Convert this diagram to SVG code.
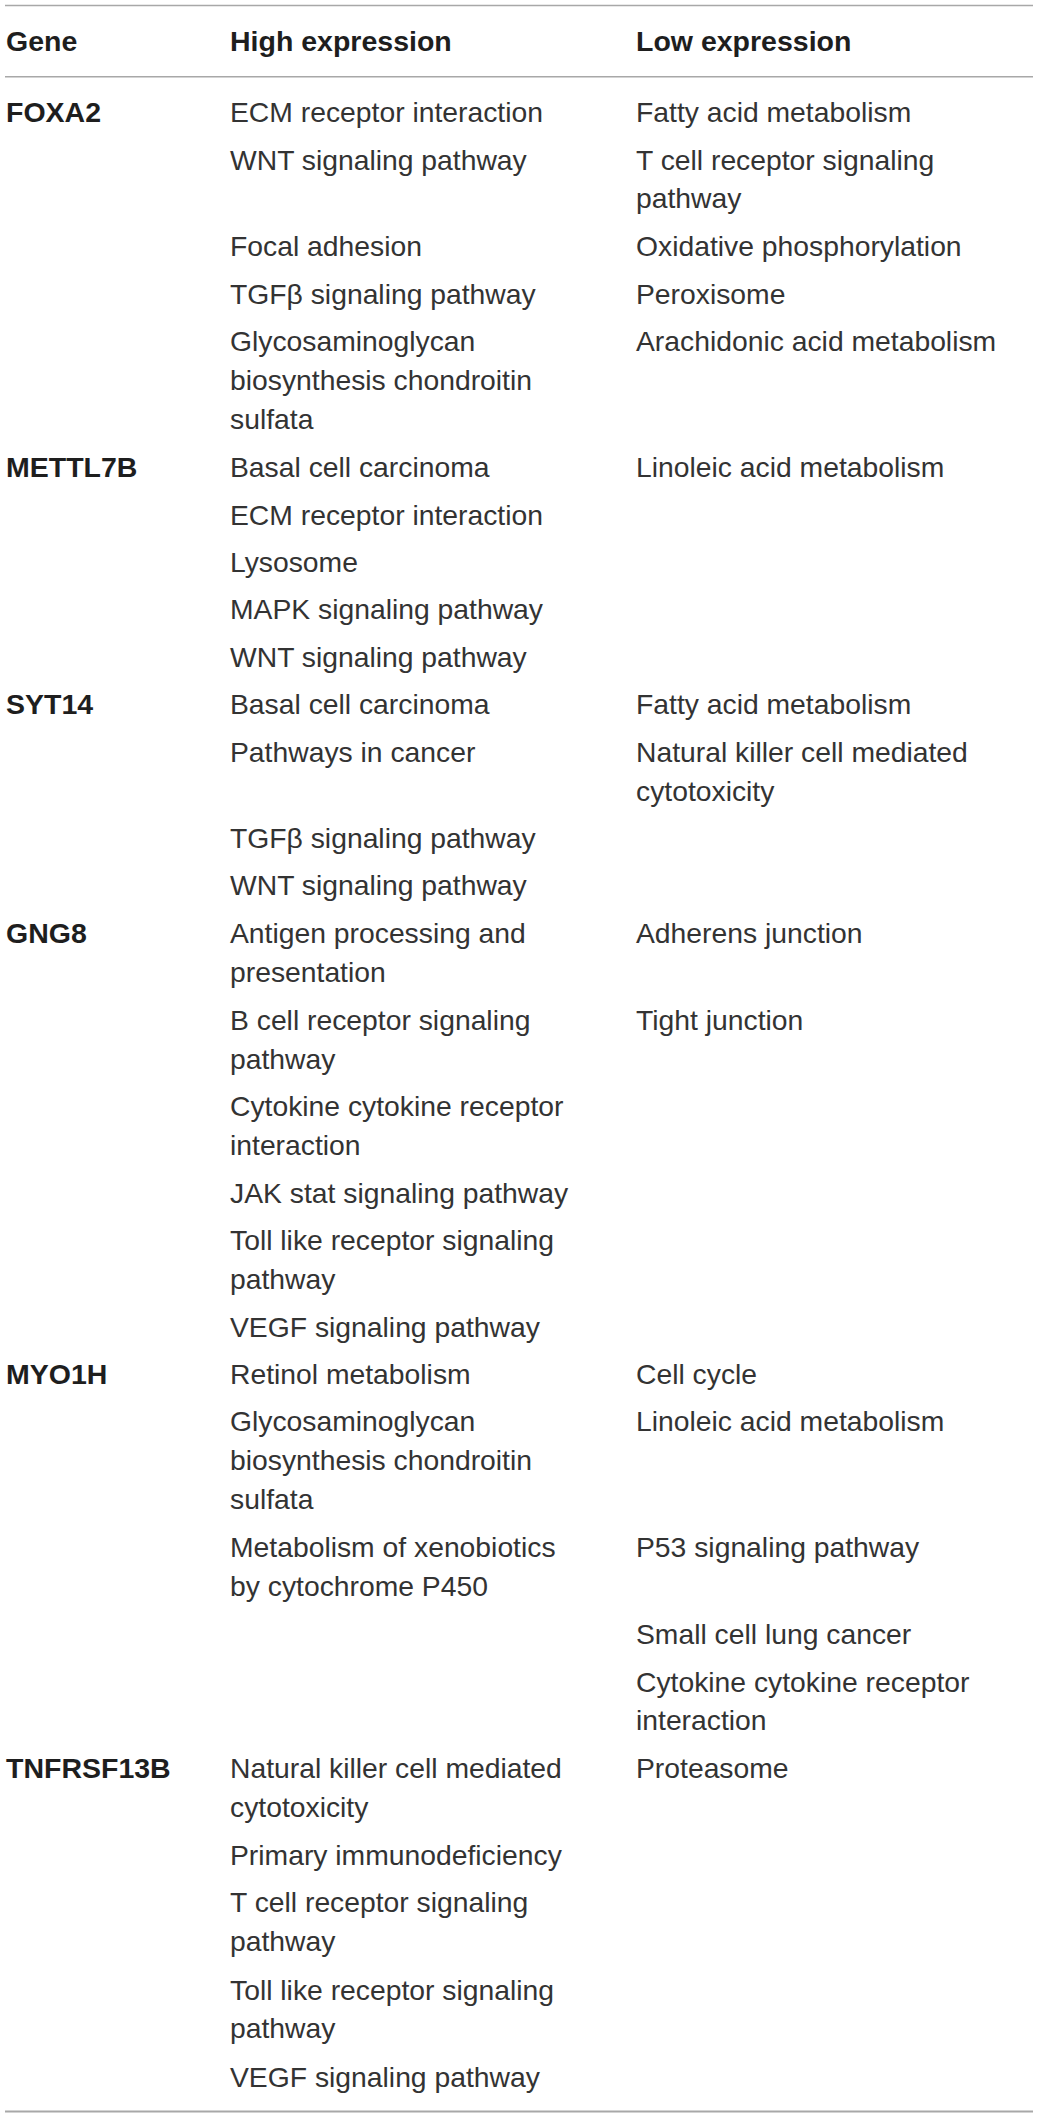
<svg xmlns="http://www.w3.org/2000/svg" width="1039" height="2118" viewBox="0 0 1039 2118">
<style>
text{font-family:"Liberation Sans",Arial,Helvetica,sans-serif;font-size:28.3px;fill:#333333}
.b{font-weight:bold;fill:#1e1e1e;font-size:28.5px}
.rule{stroke:#a8a8a8;fill:none}
</style>
<rect width="1039" height="2118" fill="#ffffff"/>
<g id="rules">
<line class="rule" x1="5" y1="5.5" x2="1033" y2="5.5" stroke-width="1.5"/>
<line class="rule" x1="5" y1="76.7" x2="1033" y2="76.7" stroke-width="1.5"/>
<line class="rule" x1="5" y1="2111.5" x2="1033" y2="2111.5" stroke-width="2"/>
</g>
<g id="header">
<text class="b" x="6" y="51">Gene</text>
<text class="b" x="230" y="51">High expression</text>
<text class="b" x="636" y="51">Low expression</text>
</g>
<g id="row-FOXA2">
<text class="b" x="6" y="122">FOXA2</text>
<text x="230" y="122">ECM receptor interaction</text>
<text x="230" y="170">WNT signaling pathway</text>
<text x="230" y="256">Focal adhesion</text>
<text x="230" y="304">TGFβ signaling pathway</text>
<text x="230" y="351">Glycosaminoglycan<tspan x="230" y="390">biosynthesis chondroitin</tspan><tspan x="230" y="428.5">sulfata</tspan></text>
<text x="636" y="122">Fatty acid metabolism</text>
<text x="636" y="170">T cell receptor signaling<tspan x="636" y="207.5">pathway</tspan></text>
<text x="636" y="256">Oxidative phosphorylation</text>
<text x="636" y="304">Peroxisome</text>
<text x="636" y="351">Arachidonic acid metabolism</text>
</g>
<g id="row-METTL7B">
<text class="b" x="6" y="477">METTL7B</text>
<text x="230" y="477">Basal cell carcinoma</text>
<text x="230" y="525">ECM receptor interaction</text>
<text x="230" y="572">Lysosome</text>
<text x="230" y="619">MAPK signaling pathway</text>
<text x="230" y="667">WNT signaling pathway</text>
<text x="636" y="477">Linoleic acid metabolism</text>
</g>
<g id="row-SYT14">
<text class="b" x="6" y="714">SYT14</text>
<text x="230" y="714">Basal cell carcinoma</text>
<text x="230" y="762">Pathways in cancer</text>
<text x="230" y="848">TGFβ signaling pathway</text>
<text x="230" y="895">WNT signaling pathway</text>
<text x="636" y="714">Fatty acid metabolism</text>
<text x="636" y="762">Natural killer cell mediated<tspan x="636" y="801">cytotoxicity</tspan></text>
</g>
<g id="row-GNG8">
<text class="b" x="6" y="942.5">GNG8</text>
<text x="230" y="942.5">Antigen processing and<tspan x="230" y="982">presentation</tspan></text>
<text x="230" y="1029.5">B cell receptor signaling<tspan x="230" y="1068.5">pathway</tspan></text>
<text x="230" y="1116">Cytokine cytokine receptor<tspan x="230" y="1155">interaction</tspan></text>
<text x="230" y="1202.5">JAK stat signaling pathway</text>
<text x="230" y="1250">Toll like receptor signaling<tspan x="230" y="1288.5">pathway</tspan></text>
<text x="230" y="1336.5">VEGF signaling pathway</text>
<text x="636" y="942.5">Adherens junction</text>
<text x="636" y="1029.5">Tight junction</text>
</g>
<g id="row-MYO1H">
<text class="b" x="6" y="1383.5">MYO1H</text>
<text x="230" y="1383.5">Retinol metabolism</text>
<text x="230" y="1431">Glycosaminoglycan<tspan x="230" y="1470">biosynthesis chondroitin</tspan><tspan x="230" y="1509">sulfata</tspan></text>
<text x="230" y="1557">Metabolism of xenobiotics<tspan x="230" y="1595.5">by cytochrome P450</tspan></text>
<text x="636" y="1383.5">Cell cycle</text>
<text x="636" y="1431">Linoleic acid metabolism</text>
<text x="636" y="1557">P53 signaling pathway</text>
<text x="636" y="1643.5">Small cell lung cancer</text>
<text x="636" y="1691.5">Cytokine cytokine receptor<tspan x="636" y="1730">interaction</tspan></text>
</g>
<g id="row-TNFRSF13B">
<text class="b" x="6" y="1778">TNFRSF13B</text>
<text x="230" y="1778">Natural killer cell mediated<tspan x="230" y="1816.5">cytotoxicity</tspan></text>
<text x="230" y="1865">Primary immunodeficiency</text>
<text x="230" y="1912">T cell receptor signaling<tspan x="230" y="1951">pathway</tspan></text>
<text x="230" y="1999.5">Toll like receptor signaling<tspan x="230" y="2038">pathway</tspan></text>
<text x="230" y="2086.5">VEGF signaling pathway</text>
<text x="636" y="1778">Proteasome</text>
</g>
</svg>
